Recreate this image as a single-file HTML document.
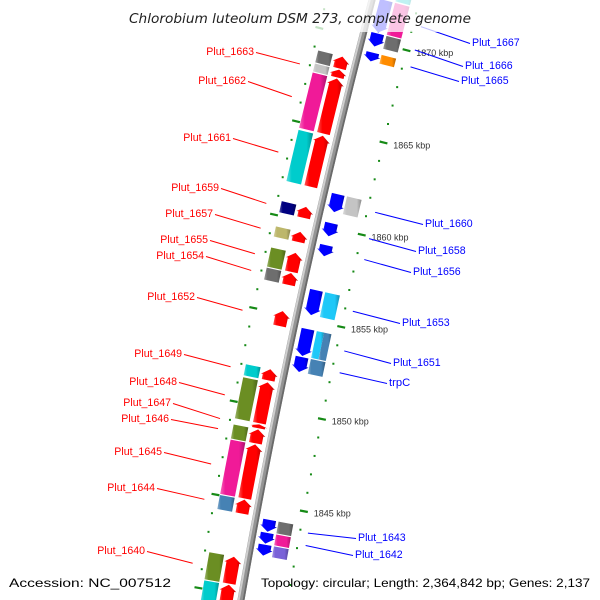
<!DOCTYPE html>
<html><head><meta charset="utf-8"><style>
html,body{margin:0;padding:0;background:#fff;width:600px;height:600px;overflow:hidden;}
svg{display:block;overflow:hidden;}
text{font-family:"Liberation Sans","DejaVu Sans",sans-serif;}
</style></head><body>
<svg id="chart" width="600" height="600" viewBox="0 0 600 600" xmlns="http://www.w3.org/2000/svg">
<defs id="defs"><clipPath id="frame"><rect x="0" y="0" width="600" height="600"/></clipPath></defs>
<g clip-path="url(#frame)">
<g id="scale"></g>
<g id="backbone"></g>
<g id="genes"></g>
<g id="labels"></g>
</g>
<rect x="115" y="0" width="370" height="32" fill="#fff" fill-opacity="0.75"/>
<text x="300" y="23" text-anchor="middle" font-size="13" font-style="italic" textLength="342" lengthAdjust="spacingAndGlyphs" fill="#222" style="font-family:'DejaVu Sans',sans-serif">Chlorobium luteolum DSM 273, complete genome</text>
<text x="9" y="587" font-size="12" textLength="162" lengthAdjust="spacingAndGlyphs" fill="#000">Accession: NC_007512</text>
<text x="261" y="587" font-size="12" textLength="329" lengthAdjust="spacingAndGlyphs" fill="#000">Topology: circular; Length: 2,364,842 bp; Genes: 2,137</text>
</svg>
<script>
const geneNames = ["Plut_1664","Plut_1663","Plut_1662","Plut_1661","Plut_1659","Plut_1657","Plut_1655","Plut_1654","Plut_1652","Plut_1649","Plut_1648","Plut_1647","Plut_1646","Plut_1645","Plut_1644","Plut_1640","Plut_1639",
  "Plut_1668","Plut_1667","Plut_1666","Plut_1665","Plut_1660","Plut_1658","Plut_1656","Plut_1653","Plut_1651","trpC","Plut_1643","Plut_1642","Plut_1641"];
const geneStart = [1868.18,1867.70,1864.68,1861.82,1860.15,1858.85,1857.24,1856.54,1854.33,1851.41,1849.10,1848.83,1848.02,1845.05,1844.24,1840.47,1839.28,
  1872.30,1870.50,1869.74,1868.94,1860.80,1859.50,1858.42,1855.24,1853.03,1852.17,1843.54,1842.90,1842.25];
const geneEnd = [1868.88,1868.18,1867.70,1864.62,1860.80,1859.45,1858.32,1857.24,1855.19,1852.06,1851.36,1849.10,1848.83,1848.02,1845.05,1841.98,1840.47,
  1872.80,1872.28,1870.50,1869.47,1861.82,1860.26,1859.07,1856.64,1854.54,1853.03,1844.24,1843.54,1842.90];
const geneStrand = [1,1,1,1,1,1,1,1,1,1,1,1,1,1,1,1,1,
  -1,-1,-1,-1,-1,-1,-1,-1,-1,-1,-1,-1,-1];
const geneCog = ["#6e6e6e","#c4c4c4","#f01a98","#00cccc","#000080","#bdb76b","#6b8e23","#6e6e6e","","#00cccc","#6b8e23","","#6b8e23","#f01a98","#4682b4","#6b8e23","#00cccc",
  "#00cccc","#f01a98","#6e6e6e","#ff8c00","#c4c4c4","","","#1ec8f8","#1ec8f8|#4682b4","#4682b4","#6e6e6e","#f01a98","#7a62d8"];
const labelNames = ["Plut_1663","Plut_1662","Plut_1661","Plut_1659","Plut_1657","Plut_1655","Plut_1654","Plut_1652","Plut_1649","Plut_1648","Plut_1647","Plut_1646","Plut_1645","Plut_1644","Plut_1640",
  "Plut_1667","Plut_1666","Plut_1665","Plut_1660","Plut_1658","Plut_1656","Plut_1653","Plut_1651","trpC","Plut_1643","Plut_1642"];
const labelX = [254,246,231,219,213,208,204,195,182,177,171,169,162,155,145,
  472,465,461,425,418,413,402,393,389,358,355];
const labelY = [51,80,137,187,213,239,255,296,353,381,402,418,451,487,550,
  42,65,80,223,250,271,322,362,382,537,554];
const tickKb = [1845,1850,1855,1860,1865,1870];
const tickLabels = ["1845 kbp","1850 kbp","1855 kbp","1860 kbp","1865 kbp","1870 kbp"];
const kbMin = 1838, kbMax = 1874;

const NS = "http://www.w3.org/2000/svg";
function yOf(kb){ return 131.6 + (1865 - kb) * 18.555; }
function bx(y){ return 372 - 0.2617*y + 7.22e-5*y*y; }
function P(kb, d){
  const y = yOf(kb);
  const s = -0.2617 + 2*7.22e-5*y;
  const n = Math.sqrt(1 + s*s);
  return [bx(y) + d/n, y - s*d/n];
}
function mk(tag, attrs, parent){
  const e = document.createElementNS(NS, tag);
  for (const k in attrs) e.setAttribute(k, attrs[k]);
  parent.appendChild(e);
  return e;
}
function ptsStr(a){ return a.map(p => p[0].toFixed(2)+","+p[1].toFixed(2)).join(" "); }
function shade(hex, f){
  const n = parseInt(hex.slice(1),16);
  let r=(n>>16)&255,g=(n>>8)&255,b=n&255;
  if (f>0){ r=r+(255-r)*f; g=g+(255-g)*f; b=b+(255-b)*f; } else { r*=1+f; g*=1+f; b*=1+f; }
  return "rgb("+Math.round(r)+","+Math.round(g)+","+Math.round(b)+")";
}
const defs = document.getElementById("defs");
const gradCache = {};
function grad(hex){
  if (gradCache[hex]) return gradCache[hex];
  const id = "g" + hex.slice(1);
  const lg = mk("linearGradient", {id:id, x1:"0", y1:"0", x2:"1", y2:"0"}, defs);
  mk("stop", {offset:"0", "stop-color":shade(hex,0.35)}, lg);
  mk("stop", {offset:"0.2", "stop-color":hex}, lg);
  mk("stop", {offset:"0.75", "stop-color":hex}, lg);
  mk("stop", {offset:"1", "stop-color":shade(hex,-0.3)}, lg);
  gradCache[hex] = "url(#"+id+")";
  return gradCache[hex];
}

const scale = document.getElementById("scale");
for (let kb = kbMin; kb <= kbMax; kb++){
  const major = kb % 5 === 0;
  [-44, 46].forEach(function(d){
    if (major){
      const a = P(kb, d-4), b = P(kb, d+4);
      const ln = mk("line", {x1:a[0], y1:a[1], x2:b[0], y2:b[1], stroke:"#168a16", "stroke-width":2.2}, scale);
      
      
    } else {
      const c = P(kb, d);
      const r = mk("rect", {x:c[0]-1, y:c[1]-1, width:2, height:2, fill:"#168a16"}, scale);
      
      
    }
  });
}
tickKb.forEach(function(kb, i){
  const c = P(kb, 56);
  const t = mk("text", {x:c[0], y:c[1]+3.5, "font-size":"9", fill:"#333"}, scale);
  
  
  t.textContent = tickLabels[i];
});

const bb = document.getElementById("backbone");
function bbPath(d){
  let s = "";
  for (let kb = kbMax+1; kb >= kbMin-1; kb -= 0.5){
    const p = P(kb, d);
    s += (s ? " L" : "M") + p[0].toFixed(2) + " " + p[1].toFixed(2);
  }
  return s;
}
const bbMain = mk("path", {d:bbPath(0), stroke:"#949494", "stroke-width":7, fill:"none"}, bb);


const bbHi = mk("path", {d:bbPath(-2.2), stroke:"#cfcfcf", "stroke-width":2, fill:"none"}, bb);


const bbSh = mk("path", {d:bbPath(2.6), stroke:"#6a6a6a", "stroke-width":1.8, fill:"none"}, bb);



const genes = document.getElementById("genes");
const geneMid = {};
for (let i = 0; i < geneNames.length; i++){
  const lo = geneStart[i] + 0.03, hi = geneEnd[i] - 0.03;
  const fwd = geneStrand[i] > 0;
  const c = fwd ? -14.5 : 14;
  const bc = fwd ? -32 : 30.5;
  geneMid[geneNames[i]] = [(geneStart[i]+geneEnd[i])/2, fwd ? -1 : 1];
  const g = mk("g", {}, genes);
  
  
  const w = 6.5, hw = 8.5;
  const hk = Math.min(6/18.555, (hi-lo)*0.6);
  let pts;
  if (fwd){
    pts = [P(lo,c-w), P(hi-hk,c-w), P(hi-hk,c-hw), P(hi,c), P(hi-hk,c+hw), P(hi-hk,c+w), P(lo,c+w)];
  } else {
    pts = [P(hi,c-w), P(lo+hk,c-w), P(lo+hk,c-hw), P(lo,c), P(lo+hk,c+hw), P(lo+hk,c+w), P(hi,c+w)];
  }
  const col = fwd ? "#ff0000" : "#0000ff";
  const arrow = mk("polygon", {points:ptsStr(pts), fill:grad(col)}, g);
  
  
  if (geneCog[i]){
    const cols = geneCog[i].split("|");
    const bw = 15 / cols.length;
    cols.forEach(function(cc, j){
      const d0 = bc - 7.5 + j*bw, d1 = d0 + bw;
      const box = mk("polygon", {points:ptsStr([P(hi,d0),P(hi,d1),P(lo,d1),P(lo,d0)]), fill:grad(cc)}, g);
      
      
    });
  }
}

const labels = document.getElementById("labels");
labelNames.forEach(function(name, i){
  const m = geneMid[name];
  if (!m) return;
  const left = m[1] < 0;
  const end = P(m[0], left ? -54 : 54);
  const col = left ? "#ff0000" : "#0000ff";
  const tx = labelX[i], ty = labelY[i];
  const ln = mk("line", {x1: left ? tx+2 : tx-2, y1: ty+1.5, x2:end[0], y2:end[1], stroke:col, "stroke-width":1}, labels);
  
  
  const t = mk("text", {x:tx, y:ty+4, "font-size":"11", fill:col, "text-anchor": left ? "end" : "start", textLength: name.length*5.3, lengthAdjust:"spacingAndGlyphs"}, labels);
  
  
  t.textContent = name;
});
</script>
</body></html>
